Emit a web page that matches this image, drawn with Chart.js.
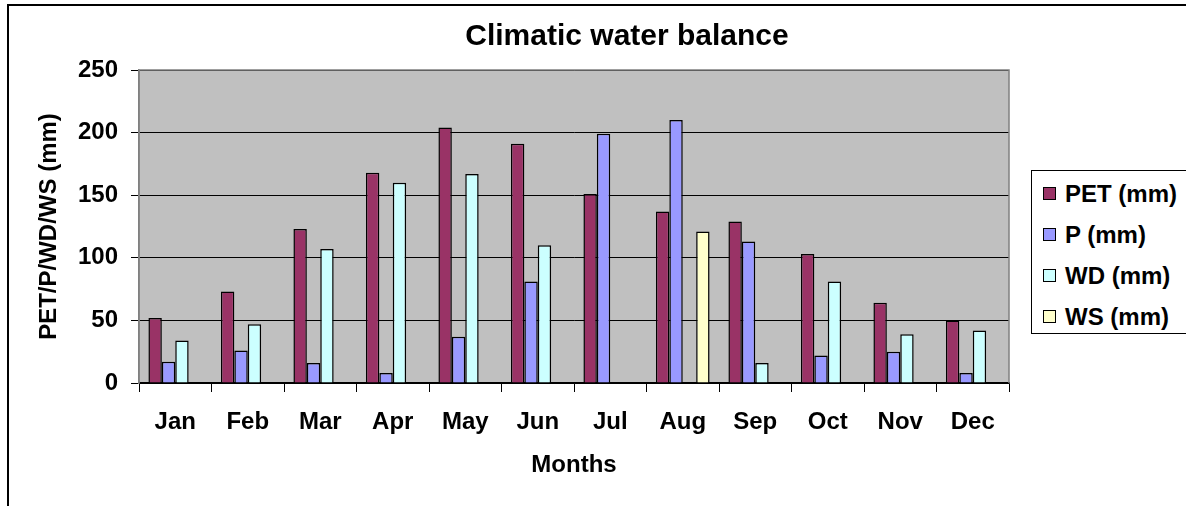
<!DOCTYPE html>
<html>
<head>
<meta charset="utf-8">
<title>Climatic water balance</title>
<script src="https://cdn.jsdelivr.net/npm/chart.js@4.4.1/dist/chart.umd.min.js"></script>
<style>
    html, body { margin: 0; padding: 0; background: #fff; }
    #wrap { position: relative; width: 1186px; height: 506px; overflow: hidden; }
    #frame { position: absolute; left: 7px; top: 4px; width: 1300px; height: 600px; border: 2px solid #000; }
    #chart { position: absolute; left: 0; top: 0; }
    #legend { position: absolute; left: 1031px; top: 170px; width: 200px; height: 162px;
              border: 1px solid #000; background: #fff;
              font: bold 24px "Liberation Sans", Arial, sans-serif; color: #000; }
    .item { position: absolute; left: 0; height: 28px; line-height: 28px; white-space: nowrap; }
    .swatch { position: absolute; left: 11px; top: 7px; width: 11px; height: 11px; border: 1.5px solid #000; }
    .text { position: absolute; left: 33px; top: 0; }
</style>
</head>
<body>
<div id="wrap">
    <div id="frame"></div>
    <canvas id="chart" width="1186" height="506"></canvas>
    <div id="legend"></div>
</div>
<script>
const months = ['Jan', 'Feb', 'Mar', 'Apr', 'May', 'Jun', 'Jul', 'Aug', 'Sep', 'Oct', 'Nov', 'Dec'];
const petValues = [52, 73, 123, 168, 204, 191, 151, 137, 129, 103, 64, 50];
const pValues = [17, 26, 16, 8, 37, 81, 199, 210, 113, 22, 25, 8];
const wdValues = [34, 47, 107, 160, 167, 110, null, null, 16, 81, 39, 42];
const wsValues = [null, null, null, null, null, null, null, 121, null, null, null, null];
const seriesLabels = ['PET (mm)', 'P (mm)', 'WD (mm)', 'WS (mm)'];
const seriesColors = ['#993366', '#9999FF', '#CCFFFF', '#FFFFCC'];
const yTicks = [0, 50, 100, 150, 200, 250];

const FONT = '"Liberation Sans", Arial, sans-serif';
Chart.defaults.font.family = FONT;
Chart.defaults.color = '#000';

// grey plot area, grey frame on top/left/right, and the chart title
const plotArea = {
    id: 'plotArea',
    beforeDraw(chart) {
        const { ctx, chartArea: a } = chart;
        ctx.save();
        ctx.fillStyle = '#C0C0C0';
        ctx.fillRect(a.left, a.top, a.right - a.left, a.bottom - a.top);
        ctx.restore();
    },
    afterDraw(chart) {
        const { ctx, chartArea: a } = chart;
        ctx.save();
        ctx.strokeStyle = '#808080';
        ctx.lineWidth = 1.5;
        ctx.beginPath();
        ctx.moveTo(a.left, a.bottom);
        ctx.lineTo(a.left, a.top);
        ctx.lineTo(a.right, a.top);
        ctx.lineTo(a.right, a.bottom);
        ctx.stroke();
        ctx.fillStyle = '#000';
        ctx.font = 'bold 30px ' + FONT;
        ctx.textAlign = 'center';
        ctx.textBaseline = 'middle';
        ctx.fillText('Climatic water balance', 627, 37);
        ctx.restore();
    }
};

const datasets = [petValues, pValues, wdValues, wsValues].map((vals, i) => ({
    label: seriesLabels[i],
    data: vals,
    backgroundColor: seriesColors[i],
    borderColor: '#000',
    borderWidth: 1.5,
    borderSkipped: 'start',
    categoryPercentage: 0.74,
    barPercentage: 1.0
}));

const chart = new Chart(document.getElementById('chart'), {
    type: 'bar',
    data: { labels: months, datasets: datasets },
    options: {
        responsive: false,
        animation: false,
        devicePixelRatio: 1,
        layout: { padding: { top: 70, right: 177, left: 0, bottom: 0 } },
        plugins: {
            legend: { display: false },
            title: { display: false },
            tooltip: { enabled: false }
        },
        scales: {
            x: {
                afterFit: (scale) => { scale.height = 123; },
                grid: { drawOnChartArea: false, drawTicks: true, tickLength: 9, color: '#000', offset: true },
                border: { color: '#000', width: 1.5 },
                ticks: { font: { size: 24, weight: 'bold' }, padding: 16, maxRotation: 0 },
                title: { display: true, text: 'Months', font: { size: 24, weight: 'bold' }, padding: { top: 0, bottom: 26 } }
            },
            y: {
                min: 0,
                max: 250,
                afterFit: (scale) => { scale.width = 139; },
                afterBuildTicks: (scale) => { scale.ticks = yTicks.map(v => ({ value: v })); },
                grid: { color: '#000', lineWidth: 1, tickLength: 8 },
                border: { color: '#808080', width: 1.5 },
                ticks: { font: { size: 24, weight: 'bold' }, padding: 13 },
                title: { display: true, text: 'PET/P/WD/WS (mm)', font: { size: 24, weight: 'bold' }, padding: { top: 35, bottom: 0 } }
            }
        }
    },
    plugins: [plotArea]
});

// legend box built from the datasets
const legendEl = document.getElementById('legend');
const rowCenters = [23, 64, 105, 146];
chart.data.datasets.forEach((ds, i) => {
    const item = document.createElement('div');
    item.className = 'item';
    item.style.top = (rowCenters[i] - 14) + 'px';
    const sw = document.createElement('span');
    sw.className = 'swatch';
    sw.style.background = ds.backgroundColor;
    const tx = document.createElement('span');
    tx.className = 'text';
    tx.textContent = ds.label;
    item.appendChild(sw);
    item.appendChild(tx);
    legendEl.appendChild(item);
});
</script>
</body>
</html>
